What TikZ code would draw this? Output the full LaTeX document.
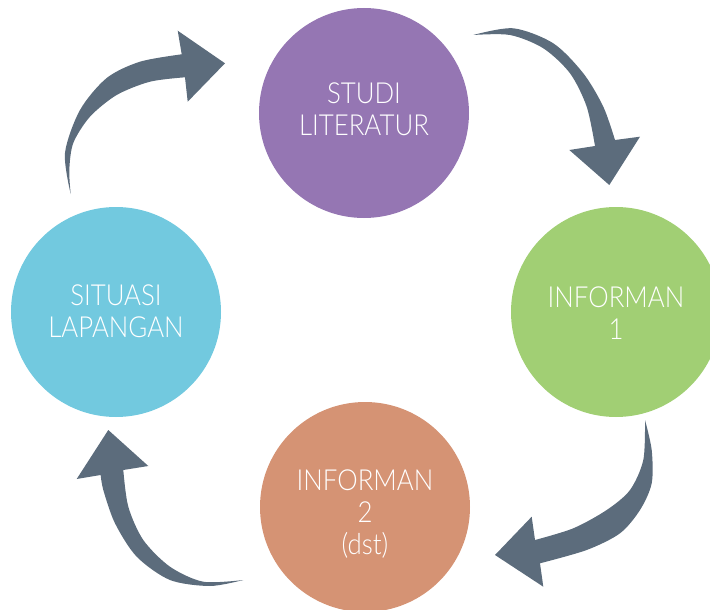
\documentclass[tikz,border=0pt]{standalone}
\usepackage{fontspec}
\IfFontExistsTF{Lato Light}{\setmainfont{Lato Light}[FakeStretch=0.89]}{\setmainfont{Lato}[FakeStretch=0.89]}
\definecolor{cpurple}{HTML}{9576B3}
\definecolor{cgreen}{HTML}{A1CF74}
\definecolor{cblue}{HTML}{72C9DF}
\definecolor{corange}{HTML}{D59374}
\definecolor{carrow}{HTML}{5C6C7C}
\begin{document}
\begin{tikzpicture}[x=1pt,y=-1pt,
  bubble/.style={circle, minimum size=210pt, inner sep=0pt, draw=none, text=white,
    align=center, font=\fontsize{29}{32}\selectfont},
  arr/.style={fill=carrow}]
\useasboundingbox (0,0) rectangle (710,610);
% nodes
\node[bubble, fill=cpurple] (stud) at (364,113) {};
\node[bubble, fill=cgreen]  (inf1) at (616,312) {};
\node[bubble, fill=corange] (inf2) at (365,507) {};
\node[bubble, fill=cblue]   (sit)  at (116,312) {};
\node[bubble, minimum size=0pt] (studt) at (364,109) {STUDI\\LITERATUR};
\node[bubble, minimum size=0pt] (inf1t) at (616,313) {INFORMAN\\1};
\node[bubble, minimum size=0pt] (inf2t) at (365,514) {INFORMAN\\2\\(dst)};
\node[bubble, minimum size=0pt] (sitt)  at (116,311) {SITUASI\\LAPANGAN};
% arrow sit -> stud
\fill[arr] plot[smooth] coordinates {(70.7,194) (65,153) (80,110) (106.7,78) (140,61.7) (181.7,54.3)}
  -- (177.7,30.7) -- (225,63.3) -- (187.7,101.7) -- (185,77.3)
  -- plot[smooth] coordinates {(185,77.3) (150,81.7) (116.7,95) (90,116.7) (73.3,143) (69.3,170) (70.7,194)} -- cycle;
% arrow stud -> inf1
\fill[arr] plot[smooth] coordinates {(473.3,35) (513.3,28.3) (553.3,43.3) (583.3,73.3) (603.3,106.7) (615,140)}
  -- (640,136.7) -- (609.3,185) -- (569.3,150) -- (595,146)
  -- plot[smooth] coordinates {(595,146) (586.7,106.7) (570,73.3) (543.3,48.3) (510,35) (473.3,35)} -- cycle;
% arrow inf1 -> inf2
\fill[arr] plot[smooth] coordinates {(645,420) (651.7,450) (651.7,483.3) (640,510) (620,533.3) (586.7,550) (540,563.3)}
  -- (543.3,586.7) -- (495,555) -- (531.7,516.7) -- (535,540)
  -- plot[smooth] coordinates {(535,540) (573.3,528.3) (606.7,510) (630,490) (643.3,460) (645,420)} -- cycle;
% arrow inf2 -> sit
\fill[arr] plot[smooth] coordinates {(243.3,580) (210,586) (170,580) (136.7,556.7) (115,523.3) (103.3,490) (100.7,475)}
  -- (76.7,479) -- (108.3,430) -- (148.3,466) -- (123.3,470)
  -- plot[smooth] coordinates {(123.3,470) (128.3,506.7) (143.3,540) (170,566.7) (203.3,581.7) (243.3,580)} -- cycle;
\end{tikzpicture}
\end{document}
